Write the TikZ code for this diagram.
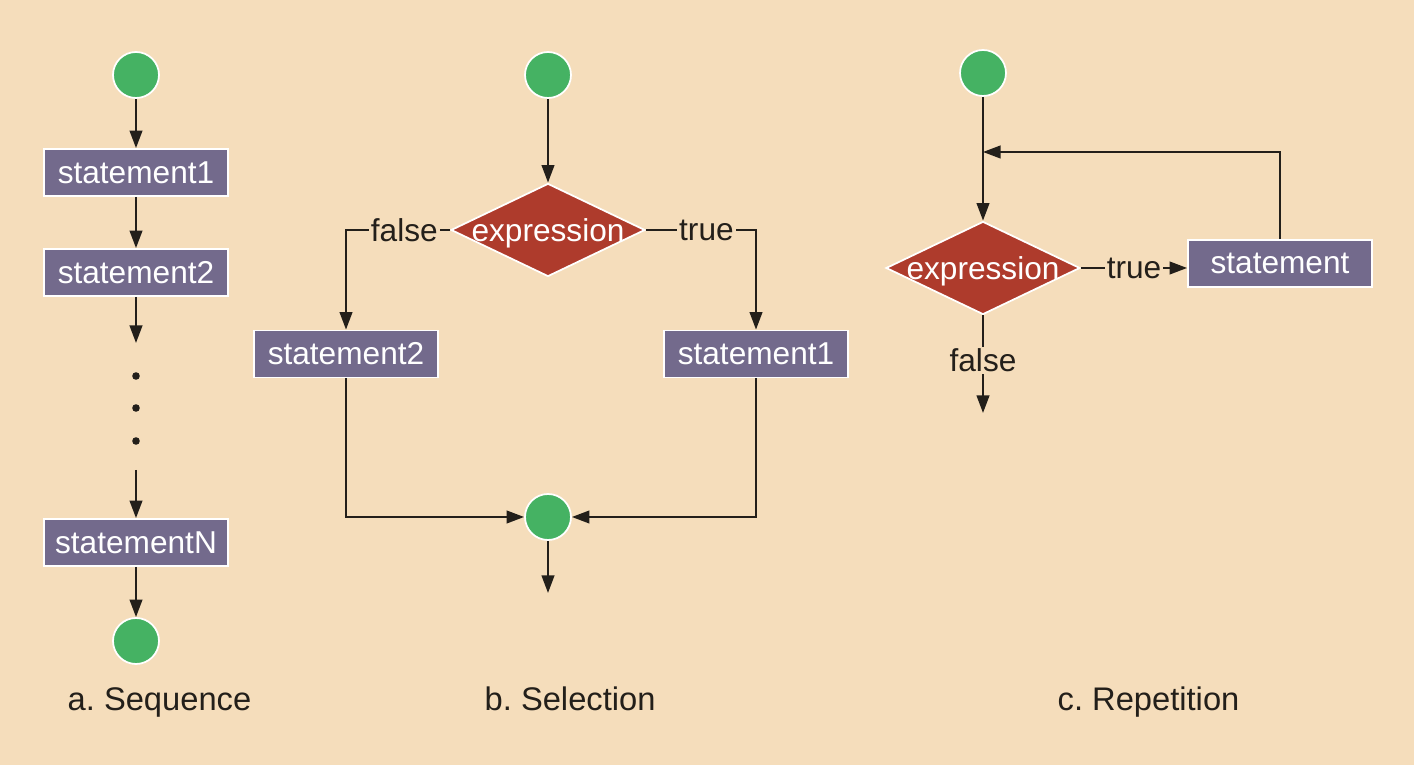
\documentclass[tikz,border=0pt]{standalone}
\usepackage{fontspec}
\setmainfont{Liberation Sans}
\usetikzlibrary{shapes.geometric,arrows.meta}

\definecolor{bgtan}{HTML}{F5DDBB}
\definecolor{termgreen}{HTML}{45B263}
\definecolor{stmtpurple}{HTML}{736A8C}
\definecolor{condred}{HTML}{AE3B2C}
\definecolor{inkdark}{HTML}{231F1A}

\begin{document}
\frenchspacing
\begin{tikzpicture}[
        every node/.style={font=\fontsize{9pt}{11pt}\selectfont},
        term/.style={circle, fill=termgreen, draw=white, line width=0.5pt, minimum size=0.46cm, inner sep=0pt},
        stmt/.style={rectangle, fill=stmtpurple, draw=white, line width=0.5pt, minimum width=1.84cm, minimum height=0.47cm, inner sep=0pt, text=white},
        cond/.style={diamond, fill=condred, draw=white, line width=0.5pt, minimum width=1.94cm, minimum height=0.93cm, inner sep=0pt, text=white, text height=1.5ex, text depth=0.3ex},
        tag/.style={fill=bgtan, text=inkdark, inner sep=0.6pt},
        flow/.style={draw=inkdark, line width=0.6pt, -{Triangle[length=5pt,width=3.6pt]}},
        caption/.style={text=inkdark, inner sep=0pt, anchor=base west, font=\fontsize{9.3pt}{11pt}\selectfont}
    ]
        % Nền
        \fill[bgtan] (0,0) rectangle (14.14,7.65);

        % a. Sequence
        \node[term] (a0) at (1.36,6.90) {};
        \node[stmt] (a1) at (1.36,5.925) {statement1};
        \node[stmt] (a2) at (1.36,4.925) {statement2};
        \node[stmt] (aN) at (1.36,2.225) {statementN};
        \node[term] (a9) at (1.36,1.24) {};
        \coordinate (adots1) at (1.36,4.22);
        \coordinate (adots2) at (1.36,2.95);
        \foreach \y in {3.89,3.57,3.24}
            \fill[inkdark] (1.36,\y) circle (0.038);
        \node[caption] (acap) at (0.67,0.54) {a. Sequence};

        \draw[flow] (a0) -- (a1);
        \draw[flow] (a1) -- (a2);
        \draw[flow] (a2) -- (adots1);
        \draw[flow] (adots2) -- (aN);
        \draw[flow] (aN) -- (a9);

        % b. Selection
        \node[term] (b0) at (5.48,6.90) {};
        \node[cond] (bexp) at (5.48,5.35) {\makebox[0pt]{expression}};
        \node[stmt] (bF) at (3.46,4.11) {statement2};
        \node[stmt] (bT) at (7.56,4.11) {statement1};
        \node[term] (b9) at (5.48,2.48) {};
        \coordinate (bout) at (5.48,1.72);
        \node[caption] (bcap) at (4.84,0.54) {b. Selection};

        \draw[flow] (b0) -- (bexp);
        \draw[flow] (bexp.west) -| node[tag, pos=0.22] {false} (bF);
        \draw[flow] (bexp.east) -| node[tag, pos=0.275] {true} (bT);
        \draw[flow] (bF) |- (b9);
        \draw[flow] (bT) |- (b9);
        \draw[flow] (b9) -- (bout);

        % c. Repetition
        \node[term] (c0) at (9.83,6.92) {};
        \node[cond] (cexp) at (9.83,4.97) {\makebox[0pt]{expression}};
        \node[stmt] (cT) at (12.80,5.015) {statement};
        \coordinate (cloop) at (9.83,6.13);
        \coordinate (cout) at (9.83,3.52);
        \node[caption] (ccap) at (10.57,0.54) {c. Repetition};

        \draw[flow] (c0) -- (cexp);
        \draw[flow] (cT) |- (cloop);
        \draw[flow] (cexp.east) -- node[tag, pos=0.5] {true} (cexp.east -| cT.west);
        \draw[flow] (cexp) -- node[tag, pos=0.46] {false} (cout);
    \end{tikzpicture}
\end{document}
